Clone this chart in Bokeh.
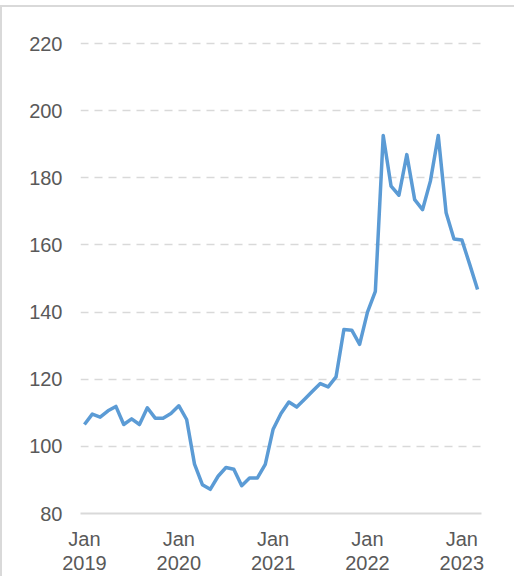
import pandas as pd
from bokeh.plotting import figure
from bokeh.models import FixedTicker, Range1d, ColumnDataSource
from bokeh.embed import file_html
from bokeh.resources import INLINE

# Monthly index values, Jan 2019 .. Mar 2023
months = [str(p) for p in pd.period_range("2019-01", "2023-03", freq="M")]
values = [
    106.5, 109.6, 108.7, 110.6, 111.9, 106.5, 108.2, 106.5, 111.5, 108.4, 108.4, 109.8,
    112.1, 108.0, 94.7, 88.6, 87.2, 91.1, 93.7, 93.2, 88.3, 90.6, 90.6, 94.6,
    105.1, 109.8, 113.2, 111.7, 114.0, 116.4, 118.7, 117.7, 120.7, 134.8, 134.6, 130.4,
    140.0, 146.2, 192.6, 177.5, 174.8, 186.9, 173.5, 170.5, 179.0, 192.6, 169.6, 161.8,
    161.5, 154.2, 146.7,
]
tick_months = ["2019-01", "2020-01", "2021-01", "2022-01", "2023-01"]
tick_labels = ["Jan\n2019", "Jan\n2020", "Jan\n2021", "Jan\n2022", "Jan\n2023"]
y_ticks = [80, 100, 120, 140, 160, 180, 200, 220]

xs = [months.index(m) for m in months]
src = ColumnDataSource(dict(x=xs, y=values))

p = figure(
    output_backend="svg", toolbar_location=None,
    frame_width=401, frame_height=472,
    min_border_left=78, min_border_top=34, min_border_right=33, min_border_bottom=58,
    x_range=Range1d(-0.5, len(months) - 0.5), y_range=Range1d(80, 220.6),
)
p.styles = {"margin-top": "5px", "border-top": "2px solid #d9d9d9", "border-left": "2px solid #d9d9d9"}
p.outline_line_color = None
p.background_fill_color = "white"
p.border_fill_color = "white"

p.line("x", "y", source=src, line_color="#5B9BD5", line_width=3.5, line_join="round")

tick_pos = [months.index(m) for m in tick_months]
p.xaxis.ticker = FixedTicker(ticks=tick_pos)
p.xaxis.major_label_overrides = {t: l for t, l in zip(tick_pos, tick_labels)}
p.yaxis.ticker = FixedTicker(ticks=y_ticks)

for ax in (p.xaxis[0], p.yaxis[0]):
    ax.major_label_text_font = "Liberation Sans"
    ax.major_label_text_font_size = "20px"
    ax.major_label_text_color = "#595959"
    ax.major_tick_line_color = None
    ax.minor_tick_line_color = None
    ax.major_tick_out = 0
    ax.major_tick_in = 0

p.yaxis.axis_line_color = None
p.yaxis.major_label_standoff = 18
p.xaxis.axis_line_color = "#d9d9d9"
p.xaxis.axis_line_width = 2
p.xaxis.major_label_standoff = 14
p.xaxis.major_label_text_line_height = 1.1

p.xgrid.grid_line_color = None
p.ygrid.grid_line_color = "#d9d9d9"
p.ygrid.grid_line_width = 1.5
p.ygrid.grid_line_dash = "8 6"

open("out.html", "w").write(file_html(p, INLINE))
